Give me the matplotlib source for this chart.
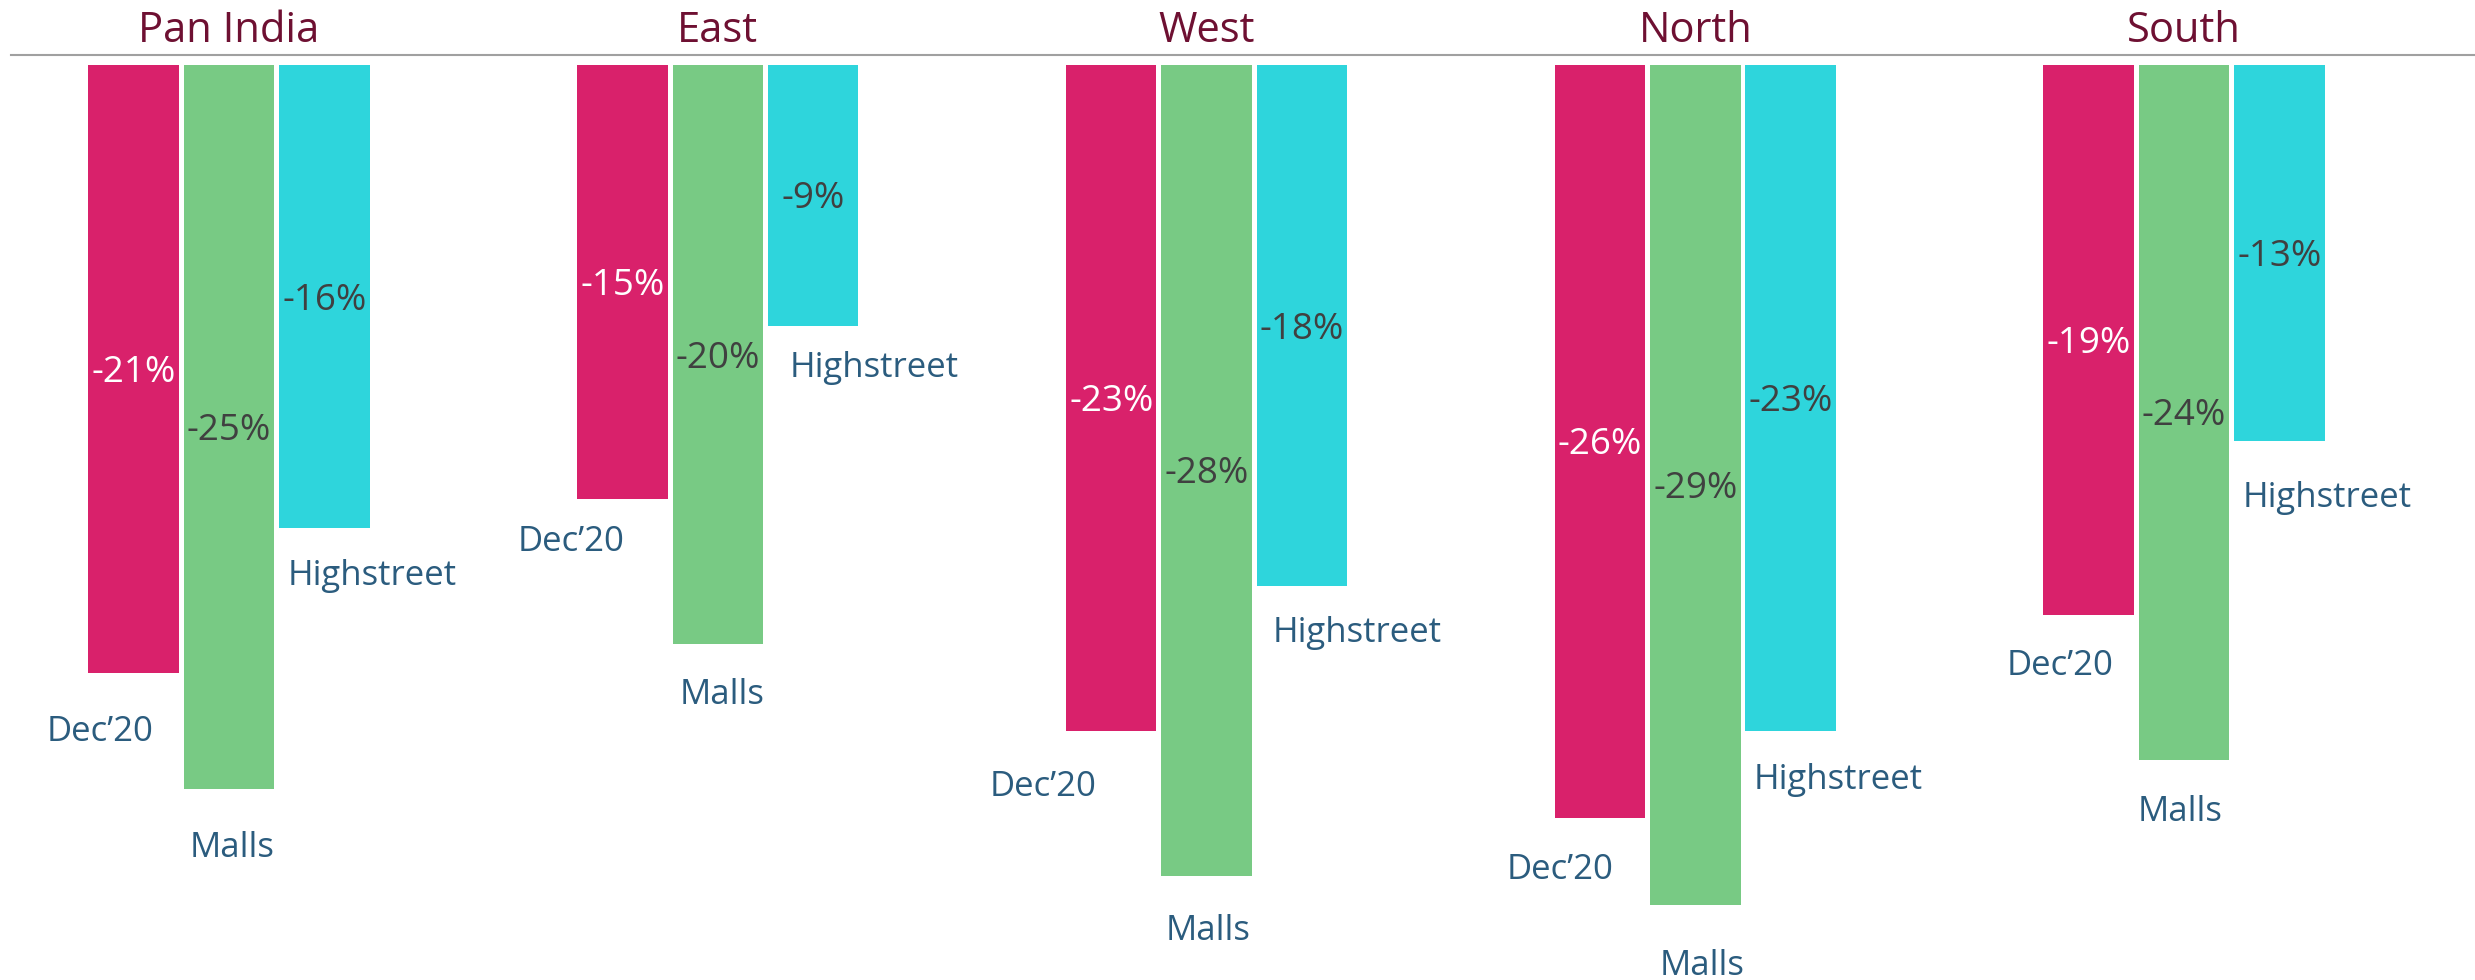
import matplotlib
matplotlib.use("Agg")
import matplotlib.pyplot as plt
import numpy as np

# ---- data ----
regions = ["Pan India", "East", "West", "North", "South"]
series_names = ["Dec\u201920", "Malls", "Highstreet"]
dec20 = [-21, -15, -23, -26, -19]
malls = [-25, -20, -28, -29, -24]
highstreet = [-16, -9, -18, -23, -13]

# ---- styling / layout ----
colors = ["#D9216B", "#78CA84", "#2ED5DC"]
value_colors = ["white", "#404040", "#404040"]
title_color = "#6E1032"
label_color = "#2B5C7E"
font = "Open Sans"

# category-label offsets (pixels) from each bar's bottom-centre: (dx, dy down to cap centre)
label_dx = [[-34, -51, -68, -40, -29], [3, 4, 2, 7, -4], [48, 61, 55, 48, 48]]
label_dy = [[56, 39, 53, 49, 47], [56, 48, 52, 58, 49], [44, 39, 43, 46, 53]]

W, H, DPI = 2475, 980, 100
px_per_unit = 28.95   # pixels per percentage point
top_px = 65           # pixel row of zero line
grp_px = 488.75       # pixels between groups
first_px = 229        # pixel x of first group's centre
bar_w_px = 90.5
pitch_px = 95.3

fig = plt.figure(figsize=(W / DPI, H / DPI), dpi=DPI)
ax = fig.add_axes([0, 0, 1, 1])
ax.set_xlim(-first_px / grp_px, (W - first_px) / grp_px)
ax.set_ylim(-(H - top_px) / px_per_unit, top_px / px_per_unit)
ax.axis("off")

x = np.arange(len(regions))
bw = bar_w_px / grp_px
pitch = pitch_px / grp_px
all_series = [dec20, malls, highstreet]
cap_half = 12.5

for s, vals in enumerate(all_series):
    xs = x + (s - 1) * pitch
    ax.bar(xs, vals, width=bw, color=colors[s], edgecolor="none", zorder=2)
    for i, v in enumerate(vals):
        # value label centred in bar
        ax.annotate(f"{v}%", xy=(xs[i], v / 2), xytext=(0, -13),
                    textcoords="offset pixels", ha="center", va="baseline",
                    fontsize=26.5, color=value_colors[s], family=font, zorder=3)
        # category label below bar
        ax.annotate(series_names[s], xy=(xs[i], v),
                    xytext=(label_dx[s][i], -(label_dy[s][i] + cap_half)),
                    textcoords="offset pixels", ha="center", va="baseline",
                    fontsize=25, color=label_color, family=font, zorder=3)

# region titles
for i, r in enumerate(regions):
    ax.annotate(r, xy=(x[i], 0), xytext=(0, top_px - 42),
                textcoords="offset pixels", ha="center", va="baseline",
                fontsize=30, color=title_color, family=font)

# header rule
ax.axhline((top_px - 55) / px_per_unit, xmin=11 / W, xmax=1, color="#A0A0A0", lw=1.5, zorder=1)

fig.savefig("out.png", dpi=DPI, facecolor="white")
